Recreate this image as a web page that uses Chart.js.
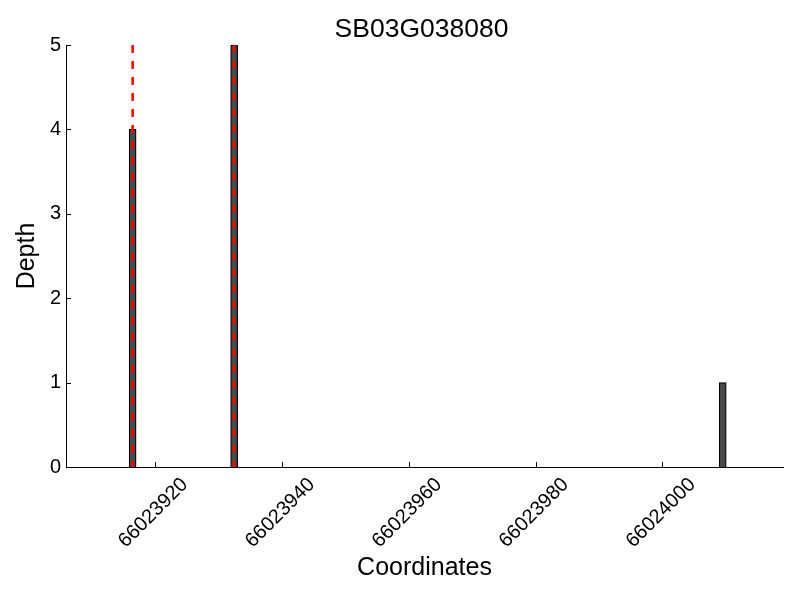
<!DOCTYPE html>
<html>
<head>
<meta charset="utf-8">
<script src="https://cdn.jsdelivr.net/npm/chart.js@4/dist/chart.umd.min.js"></script>
<style>
html,body{margin:0;padding:0;background:#fff;}
#wrap{width:800px;height:600px;}
</style>
</head>
<body>
<div id="wrap"><canvas id="c" width="800" height="600"></canvas></div>
<script>
const chartTitle = "SB03G038080";
const xTitle = "Coordinates";
const yTitle = "Depth";
const barPositions = [66023916.5, 66023932.5, 66024009.5];
const barDepths = [4, 5, 1];
const markerPositions = [66023916.5, 66023932.5];
const markerTop = 5;
const xTicks = [66023920, 66023940, 66023960, 66023980, 66024000];
const yTicks = [0, 1, 2, 3, 4, 5];
const xMin = 66023906, xMax = 66024019;

const FONT = "'Liberation Sans', Arial, sans-serif";

const barData = barPositions.map((x, i) => ({x: x, y: barDepths[i]}));
const lineSets = markerPositions.map(x => ({
  type: 'line',
  data: [{x: x, y: markerTop}, {x: x, y: 0}],
  borderColor: '#ff0000',
  borderWidth: 2.5,
  borderDash: [8, 8],
  pointRadius: 0,
  fill: false,
  order: 0
}));

const innerTicks = {
  id: 'innerTicks',
  afterDraw(chart) {
    const ctx = chart.ctx, a = chart.chartArea;
    const xs = chart.scales.x, ys = chart.scales.y;
    ctx.save();
    ctx.strokeStyle = '#000';
    ctx.lineWidth = 1;
    ctx.beginPath();
    xTicks.forEach(v => {
      const px = Math.round(xs.getPixelForValue(v)) + 0.5;
      ctx.moveTo(px, a.bottom); ctx.lineTo(px, a.bottom - 5);
    });
    yTicks.forEach(v => {
      const py = Math.round(ys.getPixelForValue(v)) + 0.5;
      ctx.moveTo(a.left, py); ctx.lineTo(a.left + 5, py);
    });
    ctx.stroke();
    ctx.fillStyle = '#000';
    ctx.font = "26.5px " + FONT;
    ctx.textAlign = 'center';
    ctx.textBaseline = 'alphabetic';
    ctx.fillText(chartTitle, (a.left + a.right) / 2 - 3, 36.7);
    ctx.restore();
  }
};

new Chart(document.getElementById('c'), {
  type: 'bar',
  data: {
    datasets: [
      ...lineSets,
      {
        type: 'bar',
        data: barData,
        backgroundColor: '#4a4a4a',
        borderColor: '#000000',
        borderWidth: 1.2,
        barThickness: 7,
        order: 1
      }
    ]
  },
  options: {
    responsive: false,
    animation: false,
    layout: {padding: {top: 45, right: 17, left: 0, bottom: 0}},
    plugins: {legend: {display: false}, tooltip: {enabled: false}, title: {display: false}},
    scales: {
      x: {
        type: 'linear',
        min: xMin, max: xMax,
        offset: false,
        afterBuildTicks(scale) { scale.ticks = xTicks.map(v => ({value: v})); },
        afterFit(scale) { scale.height = 133; },
        grid: {display: false, drawTicks: false},
        border: {display: true, color: '#000', width: 1},
        ticks: {
          autoSkip: false,
          minRotation: 45, maxRotation: 45,
          labelOffset: 30,
          padding: 6,
          color: '#000',
          font: {size: 20, family: FONT},
          callback: v => String(v)
        },
        title: {display: true, text: xTitle, color: '#000', font: {size: 25, family: FONT}, padding: {top: 0, bottom: 17}}
      },
      y: {
        min: 0, max: 5,
        afterBuildTicks(scale) { scale.ticks = yTicks.map(v => ({value: v})); },
        afterFit(scale) { scale.width = 66; },
        grid: {display: false, drawTicks: false},
        border: {display: true, color: '#000', width: 1},
        ticks: {color: '#000', padding: 5, font: {size: 20, family: FONT}},
        title: {display: true, text: yTitle, color: '#000', font: {size: 25, family: FONT}, padding: {top: 12, bottom: 0}}
      }
    }
  },
  plugins: [innerTicks]
});
</script>
</body>
</html>
